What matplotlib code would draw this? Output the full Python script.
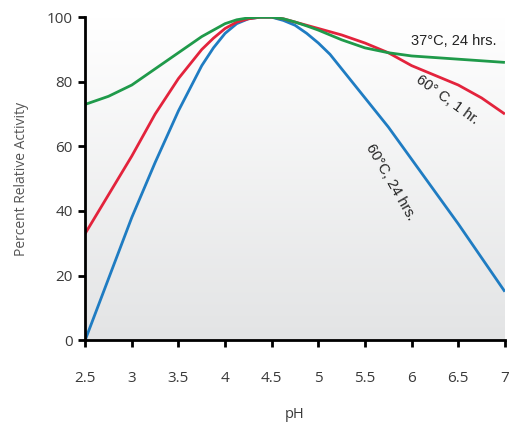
import numpy as np
import matplotlib
matplotlib.use("Agg")
import matplotlib.pyplot as plt

# pH values and activity curves
ph = [2.5, 2.75, 3, 3.25, 3.5, 3.75, 3.875, 4, 4.125, 4.25, 4.375, 4.5, 4.625, 4.75, 4.875,
      5, 5.125, 5.25, 5.5, 5.75, 6, 6.25, 6.5, 6.75, 7]
act_60_24 = [0, 19, 38, 55, 71, 85, 90.5, 95, 98, 99.5, 100, 100, 99, 97.5, 95,
             92, 88.5, 84, 75, 66, 56, 46, 36, 25.5, 15]
act_60_1 = [33, 45, 57, 70, 81, 90, 93.5, 96.5, 98.5, 99.5, 100, 100, 99.5, 98.5, 97.5,
            96.5, 95.5, 94.5, 92, 89, 85, 82, 79, 75, 70]
act_37_24 = [73, 75.5, 79, 84, 89, 94, 96, 98, 99.2, 99.8, 100, 100, 99.5, 98.5, 97.3,
             96, 94.5, 93, 90.5, 89, 88, 87.5, 87, 86.5, 86]

xticks = [2.5, 3, 3.5, 4, 4.5, 5, 5.5, 6, 6.5, 7]
xticklabels = ["2.5", "3", "3.5", "4", "4.5", "5", "5.5", "6", "6.5", "7"]
yticks = [0, 20, 40, 60, 80, 100]

txt = "#3a3a3a"
plt.rcParams['font.family'] = ['Open Sans', 'DejaVu Sans']

fig = plt.figure(figsize=(5.1, 4.3), dpi=100)
ax = fig.add_axes([0.167, 0.209, 0.823, 0.751])

# gradient background: white at top, light grey at bottom
grad = np.linspace(0, 1, 256).reshape(-1, 1)
ax.imshow(grad, extent=[0, 1, 0, 1], transform=ax.transAxes, aspect='auto',
          cmap=matplotlib.colors.LinearSegmentedColormap.from_list("g", ["#e3e4e5", "#ffffff"]),
          origin='lower', zorder=0)

ax.plot(ph, act_60_24, color="#1f7cc2", lw=2, zorder=3, solid_capstyle='butt')
ax.plot(ph, act_60_1, color="#e3233c", lw=2, zorder=3, solid_capstyle='butt')
ax.plot(ph, act_37_24, color="#1f9a4a", lw=2, zorder=4, solid_capstyle='butt')

ax.set_xlim(2.5, 7)
ax.set_ylim(0, 100)
ax.set_xticks(xticks)
ax.set_xticklabels(xticklabels)
ax.set_yticks(yticks)

for s in ['top', 'right']:
    ax.spines[s].set_visible(False)
for s in ['left', 'bottom']:
    ax.spines[s].set_linewidth(2)
    ax.spines[s].set_color("black")
    ax.spines[s].set_zorder(5)

ax.tick_params(axis='x', direction='out', length=5, width=2, pad=17, labelsize=11, labelcolor=txt)
ax.tick_params(axis='y', direction='out', length=5, width=2, pad=4, labelsize=11, labelcolor=txt)

ax.set_xlabel("pH", fontsize=10.5, color=txt, labelpad=15)
ax.set_ylabel("Percent Relative Activity", fontsize=10, color="#555555", labelpad=13)

nfam = ['Liberation Sans', 'DejaVu Sans']
ax.text(6.45, 92.5, "37°C, 24 hrs.", fontsize=10.5, color="#222222", family=nfam,
        ha='center', va='center', zorder=6)
ax.text(6.38, 74.5, "60° C, 1 hr.", fontsize=10.5, color="#222222", family=nfam,
        rotation=-36, ha='center', va='center', zorder=6)
ax.text(5.77, 49, "60°C, 24 hrs.", fontsize=10.5, color="#222222", family=nfam,
        rotation=-60, ha='center', va='center', zorder=6)

fig.savefig("out.png", dpi=100)
